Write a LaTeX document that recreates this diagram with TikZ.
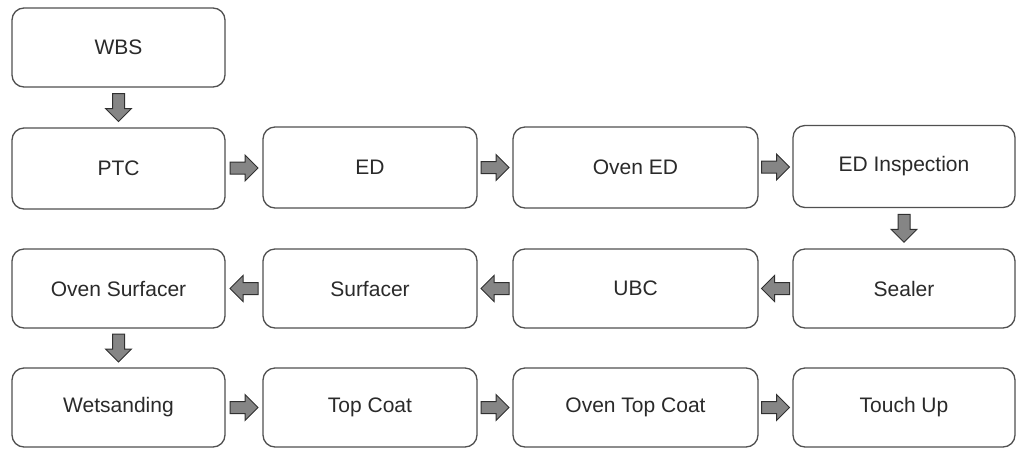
\documentclass[tikz,border=0pt]{standalone}
\usepackage{fontspec}
\setmainfont{Liberation Sans}
\usetikzlibrary{calc}
\definecolor{boxline}{HTML}{505050}
\definecolor{arrfill}{HTML}{858585}
\definecolor{arrline}{HTML}{303030}
\definecolor{txt}{HTML}{2A2A2A}
\tikzset{
  stepbox/.style={draw=boxline, line width=1.3pt, rounded corners=12pt, fill=white,
    inner sep=0pt, font=\fontsize{21}{24}\selectfont, text=txt},
  barrow/.style={draw=arrline, fill=arrfill, line width=1pt, line join=miter},
  rarr/.pic={\path[barrow] (-14,-6) -- (1,-6) -- (1,-13) -- (14,0) -- (1,13) -- (1,6) -- (-14,6) -- cycle;},
  larr/.pic={\path[barrow] (14,-6) -- (-1,-6) -- (-1,-13) -- (-14,0) -- (-1,13) -- (-1,6) -- (14,6) -- cycle;},
  darr/.pic={\path[barrow] (-6,-14) -- (-6,1) -- (-13,1) -- (0,14) -- (13,1) -- (6,1) -- (6,-14) -- cycle;}
}
\begin{document}
\begin{tikzpicture}[x=1pt,y=-1pt]
\useasboundingbox (0,0) rectangle (1017,448);
% row 0
\node[stepbox, minimum width=213pt, minimum height=79pt] (wbs) at (118.5,47.5) {WBS};
% row 1
\node[stepbox, minimum width=213pt, minimum height=81pt] (ptc) at (118.5,168.5) {PTC};
\node[stepbox, minimum width=214pt, minimum height=81pt] (ed) at (370,167.5) {ED};
\node[stepbox, minimum width=245pt, minimum height=81pt] (oven) at (635.5,167.5) {Oven ED};
\node[stepbox, minimum width=222pt, minimum height=82pt] (insp) at (904,166.5) {ED Inspection};
% row 2
\node[stepbox, minimum width=213pt, minimum height=79pt] (ovsurf) at (118.5,288.5) {Oven Surfacer};
\node[stepbox, minimum width=214pt, minimum height=79pt] (surf) at (370,288.5) {Surfacer};
\node[stepbox, minimum width=245pt, minimum height=79pt] (ubc) at (635.5,288.5) {UBC};
\node[stepbox, minimum width=222pt, minimum height=79pt] (sealer) at (904,288.5) {Sealer};
% row 3
\node[stepbox, minimum width=213pt, minimum height=79pt] (wet) at (118.5,407.5) {Wetsanding};
\node[stepbox, minimum width=214pt, minimum height=79pt] (top) at (370,407.5) {Top Coat};
\node[stepbox, minimum width=245pt, minimum height=79pt] (ovtop) at (635.5,407.5) {Oven Top Coat};
\node[stepbox, minimum width=222pt, minimum height=79pt] (touch) at (904,407.5) {Touch Up};
% arrows
\pic at ($(wbs.south)!0.5!(ptc.north)$) {darr};
\pic at ($(ptc.east)!0.5!(ed.west)$) {rarr};
\pic at ($(ed.east)!0.5!(oven.west)$) {rarr};
\pic at ($(oven.east)!0.5!(insp.west)$) {rarr};
\pic at ($(insp.south)!0.5!(sealer.north)$) {darr};
\pic at ($(sealer.west)!0.5!(ubc.east)$) {larr};
\pic at ($(ubc.west)!0.5!(surf.east)$) {larr};
\pic at ($(surf.west)!0.5!(ovsurf.east)$) {larr};
\pic at ($(ovsurf.south)!0.5!(wet.north)$) {darr};
\pic at ($(wet.east)!0.5!(top.west)$) {rarr};
\pic at ($(top.east)!0.5!(ovtop.west)$) {rarr};
\pic at ($(ovtop.east)!0.5!(touch.west)$) {rarr};
\end{tikzpicture}
\end{document}
